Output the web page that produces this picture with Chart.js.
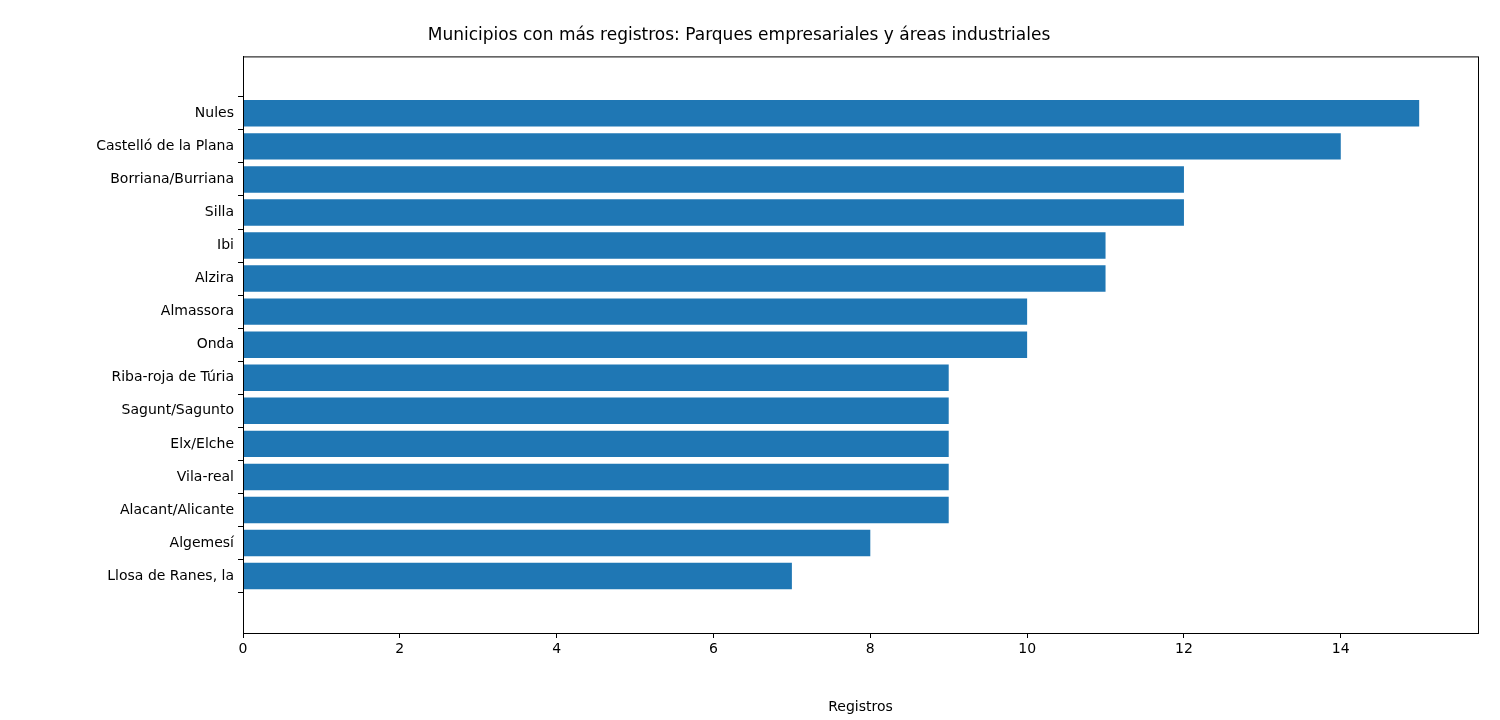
<!DOCTYPE html>
<html>
<head>
<meta charset="utf-8">
<script src="https://cdn.jsdelivr.net/npm/chart.js@4"></script>
<style>body{margin:0;background:#fff}</style>
</head>
<body>
<canvas id="barChart" width="1500" height="720"></canvas>
<script>
var municipios = ['Nules', 'Castelló de la Plana', 'Borriana/Burriana', 'Silla', 'Ibi', 'Alzira',
    'Almassora', 'Onda', 'Riba-roja de Túria', 'Sagunt/Sagunto', 'Elx/Elche', 'Vila-real',
    'Alacant/Alicante', 'Algemesí', 'Llosa de Ranes, la'];
var registros = [15, 14, 12, 12, 11, 11, 10, 10, 9, 9, 9, 9, 9, 8, 7];
var xTicks = [0, 2, 4, 6, 8, 10, 12, 14];

var puntos = [];
for (var i in registros) {
    puntos.push({x: registros[i], y: Number(i)});
}

var frame = {
    id: 'frame',
    afterDraw: function (chart) {
        var a = chart.chartArea, c = chart.ctx;
        c.save();
        c.strokeStyle = '#000';
        c.lineWidth = 1;
        c.strokeRect(a.left + 0.5, a.top + 0.5, a.right - a.left, a.bottom - a.top);
        c.restore();
    }
};

var font = {family: 'DejaVu Sans', size: 14};
var ctxx = document.getElementById('barChart').getContext('2d');
var myChart = new Chart(ctxx, {
    type: 'bar',
    data: {
        datasets: [{
            data: puntos,
            backgroundColor: '#1f77b4',
            barPercentage: 0.8,
            categoryPercentage: 1.0
        }]
    },
    options: {
        indexAxis: 'y',
        responsive: false,
        devicePixelRatio: 1,
        animation: false,
        layout: {padding: {right: 22}},
        plugins: {
            legend: {display: false},
            tooltip: {enabled: false},
            title: {
                display: true,
                text: 'Municipios con más registros: Parques empresariales y áreas industriales',
                color: '#000',
                font: {family: 'DejaVu Sans', size: 17, weight: 'normal'},
                padding: {top: 25, bottom: 11}
            }
        },
        scales: {
            x: {
                type: 'linear',
                min: 0,
                max: 15.75,
                afterBuildTicks: function (ax) { ax.ticks = xTicks.map(function (v) { return {value: v}; }); },
                afterFit: function (ax) { ax.height = 87; },
                grid: {drawOnChartArea: false, drawTicks: true, tickLength: 5, color: '#000'},
                border: {color: '#000'},
                ticks: {color: '#000', font: font, padding: 3, maxRotation: 0},
                title: {display: true, text: 'Registros', color: '#000', font: font, padding: {top: 6}}
            },
            y: {
                type: 'linear',
                reverse: true,
                min: -1.14,
                max: 15.14,
                afterBuildTicks: function (ax) { ax.ticks = municipios.map(function (m, k) { return {value: k}; }); },
                afterFit: function (ax) { ax.width = 243; },
                grid: {drawOnChartArea: false, drawTicks: true, tickLength: 5, color: '#000'},
                border: {color: '#000'},
                ticks: {
                    color: '#000', font: font, padding: 4, autoSkip: false,
                    callback: function (v) { return municipios[v]; }
                }
            }
        }
    },
    plugins: [frame]
});
</script>
</body>
</html>
